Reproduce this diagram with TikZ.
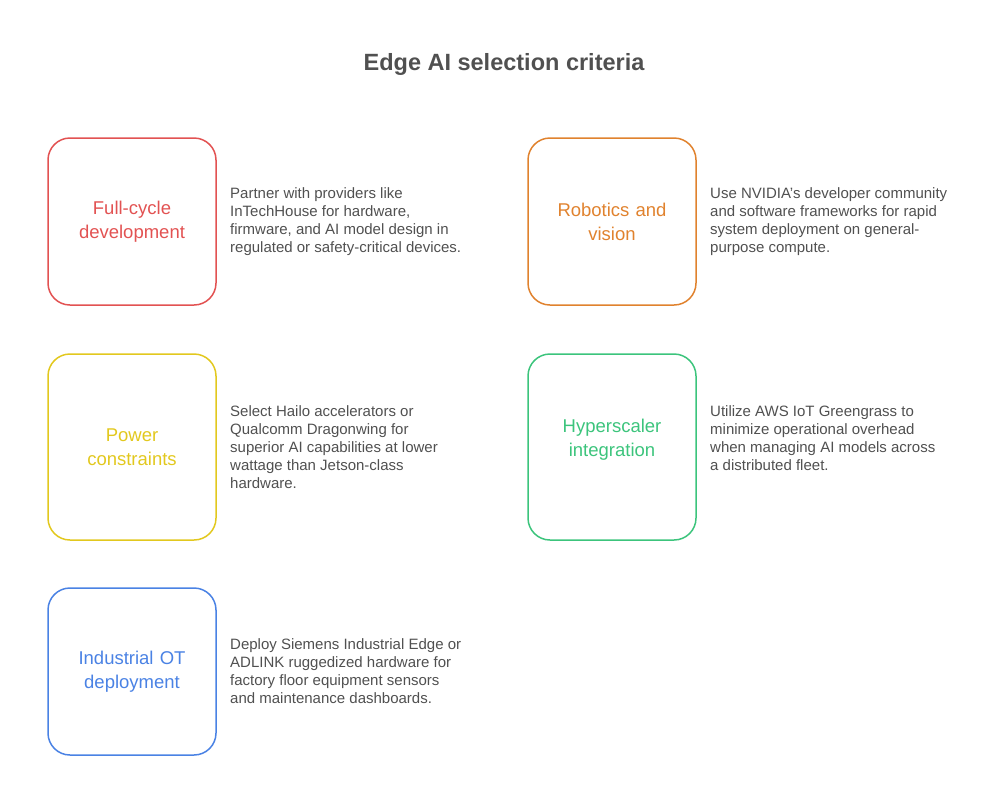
\documentclass[tikz,border=0pt]{standalone}
\usepackage{fontspec}
\setmainfont{Liberation Sans}
\definecolor{cred}{HTML}{E25252}
\definecolor{corange}{HTML}{E0822E}
\definecolor{cyellow}{HTML}{E2C81E}
\definecolor{cgreen}{HTML}{3CC47C}
\definecolor{cblue}{HTML}{4A82E4}
\definecolor{ctext}{HTML}{505050}
\begin{document}
\begin{tikzpicture}[x=1pt,y=-1pt,
 box/.style={draw=#1,text=#1,line width=1.5pt,rounded corners=22pt,minimum width=168pt,text width=150pt,align=center,font=\fontsize{18.5}{24}\selectfont,inner sep=0pt},
 desc/.style={anchor=west,align=left,text=ctext,font=\fontsize{15}{18}\selectfont,inner sep=0pt}]
\useasboundingbox (0,0) rectangle (1008,804);
\node[font=\bfseries\fontsize{23.5}{28}\selectfont,text=ctext] (title) at (504,64) {Edge AI selection criteria};
\node[box=cred,minimum height=167pt] (b1) at (132,221.5) {Full-cycle\\development};
\node[desc] (d1) at (230,221.5) {Partner with providers like\\InTechHouse for hardware,\\firmware, and AI model design in\\regulated or safety-critical devices.};
\node[box=corange,minimum height=167pt] (b2) at (612,221.5) {Robotics and\\vision};
\node[desc] (d2) at (710,221.5) {Use NVIDIA's developer community\\and software frameworks for rapid\\system deployment on general-\\purpose compute.};
\node[box=cyellow,minimum height=186pt] (b3) at (132,447) {Power\\constraints};
\node[desc] (d3) at (230,447) {Select Hailo accelerators or\\Qualcomm Dragonwing for\\superior AI capabilities at lower\\wattage than Jetson-class\\hardware.};
\node[box=cgreen,minimum height=186pt] (b4) at (612,447) {};
\node[text=cgreen,align=center,font=\fontsize{18.5}{24}\selectfont,inner sep=0pt] (l4) at (612,440) {Hyperscaler\\integration};
\node[desc] (d4) at (710,438) {Utilize AWS IoT Greengrass to\\minimize operational overhead\\when managing AI models across\\a distributed fleet.};
\node[box=cblue,minimum height=167pt] (b5) at (132,671.5) {Industrial OT\\deployment};
\node[desc] (d5) at (230,671.5) {Deploy Siemens Industrial Edge or\\ADLINK ruggedized hardware for\\factory floor equipment sensors\\and maintenance dashboards.};
\end{tikzpicture}
\end{document}
